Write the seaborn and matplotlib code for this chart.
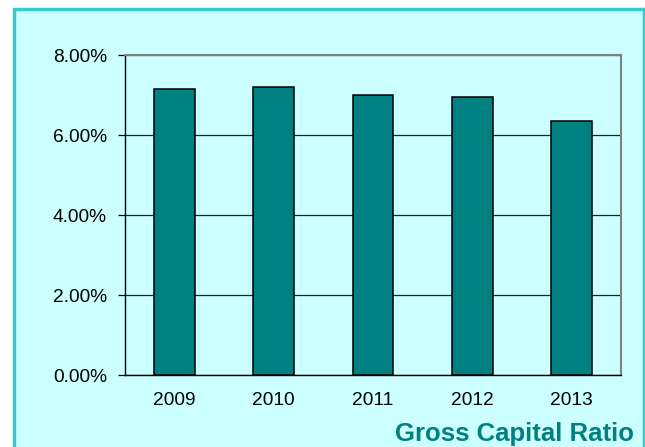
import matplotlib
matplotlib.use("Agg")
import matplotlib.pyplot as plt
import matplotlib.ticker as mticker
from matplotlib.patches import Rectangle
import seaborn as sns
import pandas as pd

years = ["2009", "2010", "2011", "2012", "2013"]
ratios = [7.14, 7.19, 7.01, 6.95, 6.36]
y_ticks = [0, 2, 4, 6, 8]
title = "Gross Capital Ratio"

bg = "#CCFFFF"
bar_color = "#008080"
frame_color = "#33CCCC"

sns.set_theme(style="white")
plt.rcParams["font.family"] = ["Liberation Sans", "DejaVu Sans"]

df = pd.DataFrame({"year": years, "ratio": ratios})

W, H = 645, 447
fig = plt.figure(figsize=(W / 100, H / 100), dpi=100)
fig.patch.set_facecolor("white")

# outer cyan frame (bottom edge runs past the canvas)
fig.patches.append(Rectangle((13.5 / W, -0.05), 630 / W, (H - 8.5) / H + 0.05,
                             transform=fig.transFigure, facecolor=bg,
                             edgecolor=frame_color, linewidth=2.5, zorder=-10))

ax = fig.add_axes([125 / W, (H - 375) / H, 496 / W, 320 / H])
ax.set_facecolor(bg)

sns.barplot(data=df, x="year", y="ratio", color=bar_color, saturation=1,
            edgecolor="black", linewidth=1.1, width=0.41, ax=ax, zorder=3)

ax.set_ylim(0, 8)
ax.set_xlim(-0.5, 4.5)
ax.set_yticks(y_ticks)
ax.yaxis.set_major_formatter(mticker.FuncFormatter(lambda v, p: f"{v:.2f}%"))
ax.grid(axis="y", color="#222222", linewidth=0.9, zorder=1)
ax.set_axisbelow(True)

ax.set_xticks(range(len(years)))
ax.set_xticks([i - 0.5 for i in range(len(years) + 1)], minor=True)
ax.tick_params(axis="x", which="major", length=0, pad=12, labelsize=13.8, colors="black")
ax.tick_params(axis="x", which="minor", length=5, width=0.9, color="black", direction="out")
ax.tick_params(axis="y", which="major", length=5, width=0.9, color="black",
               direction="out", pad=8, labelsize=13.8, colors="black")
ax.tick_params(axis="y", left=True)
ax.tick_params(axis="x", bottom=True)

ax.set_xlabel("")
ax.set_ylabel("")

for side in ["left", "bottom"]:
    ax.spines[side].set_color("black")
    ax.spines[side].set_linewidth(1.0)
for side in ["top", "right"]:
    ax.spines[side].set_visible(True)
    ax.spines[side].set_color("#808080")
    ax.spines[side].set_linewidth(1.5)

fig.text(634 / W, (H - 441) / H, title, ha="right", va="baseline",
         fontsize=18.5, fontweight="bold", color=bar_color)

fig.savefig("out.png", dpi=100, facecolor=fig.get_facecolor())
